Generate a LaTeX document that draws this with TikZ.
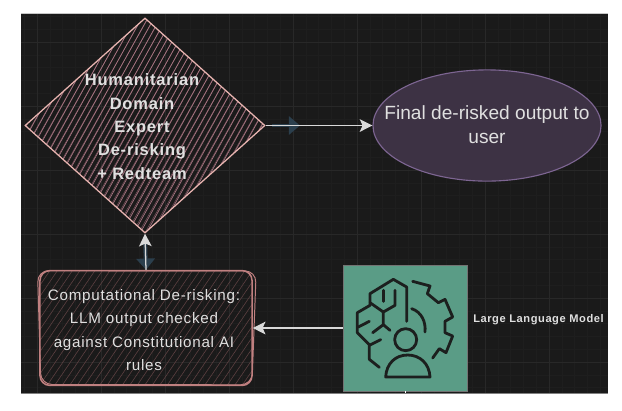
\documentclass[tikz,border=0pt]{standalone}
\usepackage{fontspec}
\setmainfont{Liberation Sans}
\newfontfamily\widefont[LetterSpace=5]{Liberation Sans}
\usepackage{xcolor}
\usepackage{tikz}
\usetikzlibrary{positioning,shapes.geometric,arrows.meta}
\definecolor{panelbg}{HTML}{1A1A1A}
\definecolor{gridmajor}{HTML}{282828}
\definecolor{gridminor}{HTML}{1E1E1E}
\definecolor{pinkline}{HTML}{E8B4B0}
\definecolor{pinkhatch}{HTML}{A87582}
\definecolor{redline}{HTML}{C08080}
\definecolor{redhatch}{HTML}{5E4142}
\definecolor{ellipsefill}{HTML}{3D3244}
\definecolor{ellipseline}{HTML}{7D6592}
\definecolor{greenfill}{HTML}{5A9C86}
\definecolor{iconline}{HTML}{1C1F1E}
\definecolor{ghostblue}{HTML}{2B3F4D}
\definecolor{textlight}{HTML}{E0E0E0}
\tikzset{
	arrowwhite/.style={draw=white!85!black, line width=0.9pt, -{Stealth[length=9pt,width=9pt,inset=2pt]}},
	ghostarrow/.style={draw=ghostblue, line width=2.8pt, -{Triangle[length=8pt,width=13pt]}},
	icon/.style={draw=iconline, line width=2pt, line join=round, line cap=round},
	plaintext/.style={text=textlight, align=center, inner sep=0pt}
}
\begin{document}
\begin{tikzpicture}[x=0.025cm,y=-0.025cm]
\useasboundingbox (0,0) rectangle (622,410);

\fill[panelbg] (21,13.5) rectangle (607.5,393);
\draw[white!78!black, line width=0.6pt] (21,13.5) -- (607.5,13.5);
\draw[white!50!black, line width=0.6pt] (21,393) -- (607.5,393);

\foreach \i in {0,...,45}
	{\draw[gridminor, line width=0.3pt] ({24.2+12.8*\i},14) -- ({24.2+12.8*\i},392.5);}
\foreach \i in {0,...,29}
	{\draw[gridminor, line width=0.3pt] (21,{16.4+12.8*\i}) -- (607.5,{16.4+12.8*\i});}
\foreach \i in {0,...,8}
	{\draw[gridmajor, line width=0.4pt] ({37+64*\i},14) -- ({37+64*\i},392.5);}
\foreach \i in {0,...,5}
	{\draw[gridmajor, line width=0.4pt] (21,{42+64*\i}) -- (607.5,{42+64*\i});}

\node[diamond, draw=pinkline, line width=0.9pt, inner sep=0pt, minimum width=6cm, minimum height=5.375cm,
	path picture={
		\foreach \i in {-27,...,27}
			{\draw[pinkhatch, line width=0.5pt] ({\i*6.2-62},110) -- ({\i*6.2+60},-110);
			\draw[pinkhatch!70!black, line width=0.35pt] ({\i*6.2-60+2.6},110) -- ({\i*6.2+64+2.6},-110);}
	}](derisk) at (145,125.5) {};

\node[ellipse, draw=ellipseline, fill=ellipsefill, line width=0.8pt, inner sep=0pt, minimum width=5.7cm, minimum height=2.78cm](final) at (487,125.5) {};

\node[rectangle, rounded corners=7pt, draw=redline, line width=1.1pt, inner sep=0pt, minimum width=5.3cm, minimum height=2.87cm,
	path picture={
		\foreach \i in {-26,...,26}
			{\draw[redhatch, line width=0.4pt] ({\i*7.5-42},62) -- ({\i*7.5+42},-62);}
	}](compute) at (146,328) {};
\draw[redline, line width=0.7pt, rounded corners=8pt] ([xshift=-1.2pt,yshift=-0.6pt]compute.north west) -- ([xshift=2.4pt,yshift=-0.8pt]compute.north east) -- ([xshift=-0.6pt,yshift=1pt]compute.south east) -- ([xshift=1.2pt,yshift=1.2pt]compute.south west) -- cycle;

\node[rectangle, fill=greenfill, draw=white!45!black, line width=0.3pt, minimum width=3.1cm, minimum height=3.15cm, inner sep=0pt](llm) at (405,328) {};

\coordinate(ghostright) at (300,125.5);
\coordinate(ghostup) at (145,238);
\coordinate(ghoststart) at (272,125.5);
\coordinate(bottomtick) at (405,393);
\draw[ghostarrow] (ghoststart) -- (ghostright);
\draw[ghostarrow] (ghostup) -- (compute.north);
\draw[arrowwhite] (derisk.east) -- (final.west);
\draw[arrowwhite] (compute.north) -- (derisk.south);
\draw[arrowwhite] (llm.west) -- (compute.east);
\draw[white, line width=0.5pt] (bottomtick) -- (llm.south);

\node[plaintext, font=\widefont\bfseries\fontsize{11.7}{16.6}\selectfont](dtext) at (142,126.5) {Humanitarian\\Domain\\Expert\\De-risking\\+ Redteam};
\node[plaintext, font=\fontsize{13.6}{17}\selectfont](ftext) at (487,125) {Final de-risked output to\\user};
\node[plaintext, font=\widefont\fontsize{10.8}{16.6}\selectfont](ctext) at (144,330) {Computational De-risking:\\LLM output checked\\against Constitutional AI\\rules};
\node[plaintext, font=\widefont\bfseries\fontsize{7.9}{8}\selectfont, anchor=west](ltext) at (473,319.5) {Large Language Model};

% icon in the green box, 1 unit = a third of a pixel
\begin{scope}[shift={(340,262)},x=0.00833cm,y=-0.00833cm]
\draw[icon] (200,178) -- (200,75) -- (160,52) -- (90,95) -- (90,130) -- (52,152) -- (52,212) -- (88,248) -- (88,292) -- (118,316);
\draw[icon] (88,250) -- (122,233);
\draw[icon] (90,122) -- (130,150) -- (165,130) -- (165,85);
\draw[icon] (130,85) -- (130,118);
\draw[icon] (130,150) -- (130,188) -- (98,212);
\draw[icon] (130,188) -- (150,205);
\draw[icon] (55,195) -- (88,178);
\draw[icon] (218,58) -- (270,72) -- (262,95) -- (295,122) -- (315,112) -- (338,165) -- (315,178) -- (315,212) -- (338,222) -- (318,272) -- (298,260) -- (278,288);
\draw[icon] (215,140) .. controls (245,150) and (258,180) .. (255,210);
\draw[icon] (197,233) circle (33);
\draw[icon] (137,345) -- (270,345) .. controls (268,305) and (240,279) .. (203,279) .. controls (166,279) and (139,305) .. (137,345) -- cycle;
\end{scope}
\end{tikzpicture}
\end{document}
